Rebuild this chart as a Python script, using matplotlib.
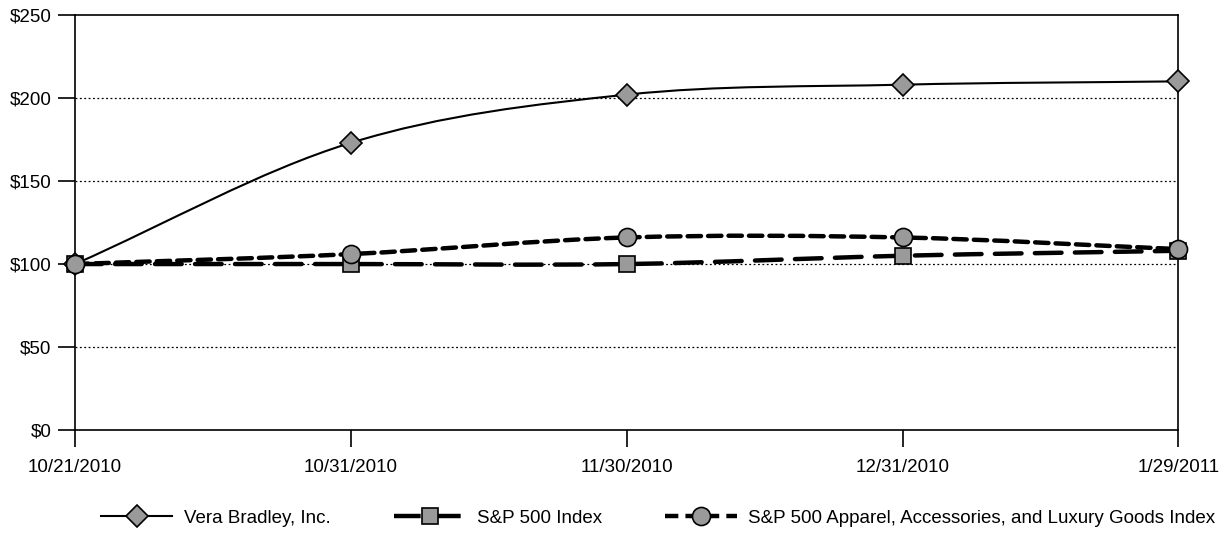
import numpy as np
import matplotlib.pyplot as plt
from matplotlib.path import Path
from matplotlib.patches import PathPatch
from matplotlib.lines import Line2D

plt.rcParams['font.family'] = ['Liberation Sans', 'DejaVu Sans']

dates = ['10/21/2010', '10/31/2010', '11/30/2010', '12/31/2010', '1/29/2011']
vera = [100, 173, 202, 208, 210]
sp500 = [100, 100, 100, 105, 108]
apparel = [100, 106, 116, 116, 109]
yticks = [0, 50, 100, 150, 200, 250]


def smooth_path(xs, ys):
    # catmull-rom style bezier, like the smoothed lines in a spreadsheet chart
    pts = np.column_stack([xs, ys]).astype(float)
    ext = np.vstack([2 * pts[0] - pts[1], pts, 2 * pts[-1] - pts[-2]])
    verts = [pts[0]]
    codes = [Path.MOVETO]
    for i in range(len(pts) - 1):
        p0, p1, p2, p3 = ext[i], ext[i + 1], ext[i + 2], ext[i + 3]
        verts += [p1 + (p2 - p0) / 6, p2 - (p3 - p1) / 6, p2]
        codes += [Path.CURVE4] * 3
    return Path(verts, codes)


fig = plt.figure(figsize=(12.3, 5.33), dpi=100)
ax = fig.add_axes([0.061, 0.193, 0.897, 0.779])

x = np.arange(len(dates))
series = [
    (vera, 'D', 11, 1.5, 'solid', 'Vera Bradley, Inc.'),
    (sp500, 's', 12, 3.2, (0, (6, 3)), 'S&P 500 Index'),
    (apparel, 'o', 13, 3.2, (0, (3, 1.6)), 'S&P 500 Apparel, Accessories, and Luxury Goods Index'),
]

handles = []
for vals, mk, ms, lw, ls, label in series:
    patch = PathPatch(smooth_path(x, vals), fill=False, edgecolor='black',
                      lw=lw, linestyle=ls, capstyle='round', zorder=3)
    ax.add_patch(patch)
    ax.plot(x, vals, linestyle='none', marker=mk, markersize=ms,
            markerfacecolor='#9a9a9a', markeredgecolor='black',
            markeredgewidth=1.2, zorder=4, clip_on=False)
    handles.append(Line2D([], [], color='black', lw=lw, linestyle=ls,
                          marker=mk, markersize=ms, markerfacecolor='#9a9a9a',
                          markeredgecolor='black', markeredgewidth=1.2,
                          label=label))

ax.set_xlim(0, len(dates) - 1)
ax.set_ylim(0, 250)
ax.set_xticks(x)
ax.set_xticklabels(dates)
ax.set_yticks(yticks)
ax.set_yticklabels([f'${v}' for v in yticks])
ax.tick_params(axis='both', direction='out', length=12, width=1.2,
               labelsize=13.5)
ax.tick_params(axis='x', pad=9)
ax.tick_params(axis='y', pad=5)
for v in yticks[1:-1]:
    ax.axhline(v, color='black', lw=0.9, linestyle=(0, (1.5, 2)), zorder=1)
for sp in ax.spines.values():
    sp.set_linewidth(1.2)

fig.legend(handles=handles, loc='lower center', ncol=3, frameon=False,
           fontsize=13.5, bbox_to_anchor=(0.535, -0.02), handlelength=3.8,
           handletextpad=0.6, columnspacing=3.4)

fig.savefig('out.png', dpi=100)
